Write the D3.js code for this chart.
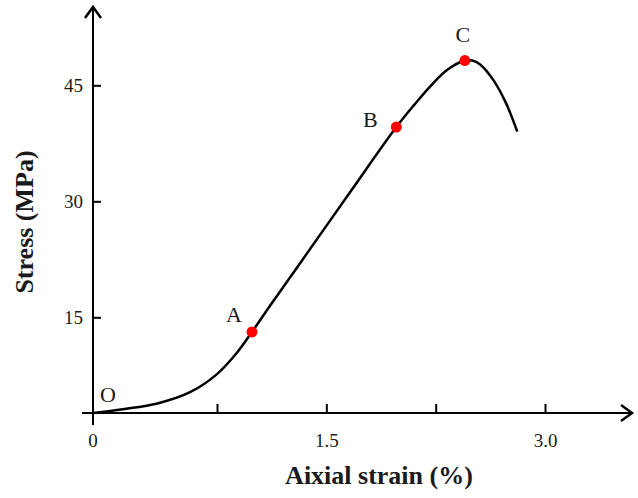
<!DOCTYPE html>
<html>
    <head>
        <meta charset="utf-8">
        <script type="text/javascript" src="https://d3js.org/d3.v7.min.js"></script>
        <style>
            html, body {
                margin: 0;
                background: #fff;
            }
            svg text {
                font-family: "Liberation Serif", "Times New Roman", serif;
                fill: #1a1a1a;
            }
            .tick text {
                font-size: 19px;
            }
            .title {
                font-size: 26px;
                font-weight: bold;
            }
            .pt-label {
                font-size: 22px;
            }
            .tick line, .axis-line {
                stroke: #000;
                stroke-width: 2px;
            }
        </style>
    </head>
    <body>
        <div id="chart"></div>

        <script>
            // stress-strain curve (strain %, stress MPa)
            var strain = [0, 0.18, 0.39, 0.59, 0.75, 0.885, 0.99, 1.11, 1.32, 1.66, 1.98, 2.10, 2.21, 2.33, 2.45, 2.50, 2.555, 2.645, 2.735, 2.81];
            var stress = [0, 0.6, 1.5, 3.3, 6.1, 9.4, 12.7, 16.4, 22.0, 31.1, 39.6, 42.4, 44.8, 47.0, 48.2, 48.2, 47.7, 45.7, 42.6, 39.0];

            var keyNames = ["A", "B", "C"];
            var keyStrain = [0.99, 1.98, 2.45];
            var keyStress = [12.7, 39.6, 48.2];

            var xTicks = [0.75, 1.5, 2.25, 3.0];
            var xLabels = {"1.5": "1.5", "3": "3.0"};
            var yTicks = [15, 30, 45];

            var width = 638, height = 498;

            // the drawn axes are not evenly spaced near the origin, so the
            // scales are piecewise
            var x = d3.scaleLinear().domain([0, 0.75, 3.0]).range([93, 217, 545]);
            var y = d3.scaleLinear().domain([0, 15, 45]).range([413, 317.3, 85.3]);

            var svg = d3.select("#chart")
                .append("svg")
                    .attr("width", width)
                    .attr("height", height);

            // axes
            svg.append("g")
                .attr("class", "x axis")
                .attr("transform", "translate(0," + y(0) + ")")
                .call(d3.axisBottom(x)
                    .tickValues(xTicks)
                    .tickSize(-9)
                    .tickPadding(21)
                    .tickFormat(function(d) { return xLabels[String(d)] || ""; }))
                .call(function(g) { g.select(".domain").remove(); });

            svg.append("g")
                .attr("class", "y axis")
                .attr("transform", "translate(" + x(0) + ",0)")
                .call(d3.axisLeft(y)
                    .tickValues(yTicks)
                    .tickSize(-8)
                    .tickPadding(10))
                .call(function(g) { g.select(".domain").remove(); });

            svg.selectAll(".tick text").attr("fill", "#1a1a1a");

            var x0 = x(0), y0 = y(0);

            svg.append("line")
                .attr("class", "axis-line")
                .attr("x1", x0 - 11).attr("y1", y0)
                .attr("x2", 631).attr("y2", y0);
            svg.append("line")
                .attr("class", "axis-line")
                .attr("x1", x0).attr("y1", y0 + 12)
                .attr("x2", x0).attr("y2", 8);

            // open arrow heads
            svg.append("path")
                .attr("d", "M621," + (y0 - 8) + "L632," + y0 + "L621," + (y0 + 8))
                .attr("fill", "none").attr("stroke", "#000").attr("stroke-width", 2.5);
            svg.append("path")
                .attr("d", "M" + (x0 - 8) + ",18L" + x0 + ",7L" + (x0 + 8) + ",18")
                .attr("fill", "none").attr("stroke", "#000").attr("stroke-width", 2.5);

            svg.append("text")
                .attr("x", x0)
                .attr("y", 447)
                .attr("text-anchor", "middle")
                .style("font-size", "19px")
                .text("0");

            // titles
            svg.append("text")
                .attr("class", "title")
                .attr("x", 379)
                .attr("y", 484)
                .attr("text-anchor", "middle")
                .text("Aixial strain (%)");

            svg.append("text")
                .attr("class", "title")
                .attr("transform", "translate(33,222) rotate(-90)")
                .attr("text-anchor", "middle")
                .text("Stress (MPa)");

            // curve
            var pts = strain.map(function(s, i) { return [s, stress[i]]; });
            var line = d3.line()
                .x(function(d) { return x(d[0]); })
                .y(function(d) { return y(d[1]); })
                .curve(d3.curveCatmullRom.alpha(0.5));

            svg.append("path")
                .datum(pts)
                .attr("d", line)
                .attr("fill", "none")
                .attr("stroke", "#000")
                .attr("stroke-width", 2.5);

            // key points
            var keys = keyNames.map(function(n, i) { return {name: n, s: keyStrain[i], v: keyStress[i]}; });
            var labelOffset = {A: [-18, -10], B: [-26, 0], C: [-2, -19]};

            svg.selectAll(".key")
                .data(keys)
                .enter()
                .append("circle")
                .attr("class", "key")
                .attr("cx", function(d) { return x(d.s); })
                .attr("cy", function(d) { return y(d.v); })
                .attr("r", 5.5)
                .attr("fill", "#f00");

            svg.selectAll(".pt-label")
                .data(keys)
                .enter()
                .append("text")
                .attr("class", "pt-label")
                .attr("text-anchor", "middle")
                .attr("x", function(d) { return x(d.s) + labelOffset[d.name][0]; })
                .attr("y", function(d) { return y(d.v) + labelOffset[d.name][1]; })
                .text(function(d) { return d.name; });

            svg.append("text")
                .attr("class", "pt-label")
                .attr("text-anchor", "middle")
                .attr("x", x0 + 15)
                .attr("y", y0 - 11)
                .text("O");
        </script>
    </body>
</html>
